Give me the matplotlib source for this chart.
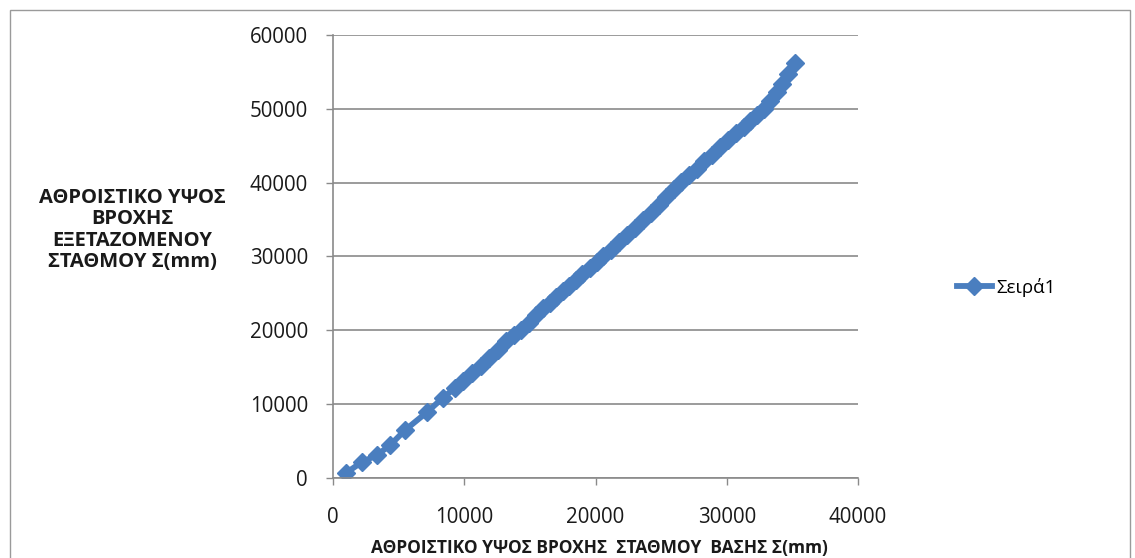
import numpy as np
import matplotlib.pyplot as plt
from matplotlib.patches import Rectangle

# cumulative rainfall, base station (x) vs examined station (y), mm
base_cum = [1000, 2200, 3350, 4350, 5500, 7150, 8400, 9300, 9900, 10600,
            11300, 11900, 12600, 13200, 13800, 14300, 14900, 15500, 16000, 16500,
            17000, 17500, 18000, 18500, 19000, 19600, 20100, 20600, 21200, 21800,
            22400, 23000, 23600, 24200, 24800, 25400, 26000, 26500, 27100, 27700,
            28300, 28900, 29500, 30100, 30700, 31300, 31800, 32300, 32800, 33300,
            33800, 34200, 34700, 35200]
examined_cum = [700, 2150, 3100, 4450, 6500, 8900, 10900, 12200, 13100, 14200,
                15200, 16300, 17300, 18500, 19300, 20100, 21000, 22100, 23000, 23700,
                24500, 25300, 26000, 26800, 27600, 28500, 29300, 30000, 30900, 31900,
                32900, 33900, 34900, 35900, 37000, 38100, 39200, 40100, 41000, 41900,
                42900, 43800, 44800, 45800, 46700, 47600, 48400, 49200, 50000, 51100,
                52300, 53400, 54700, 56200]

x_ticks = [0, 10000, 20000, 30000, 40000]
y_ticks = [0, 10000, 20000, 30000, 40000, 50000, 60000]

x_title = 'ΑΘΡΟΙΣΤΙΚΟ ΥΨΟΣ ΒΡΟΧΗΣ  ΣΤΑΘΜΟΥ  ΒΑΣΗΣ Σ(mm)'
y_title = 'ΑΘΡΟΙΣΤΙΚΟ ΥΨΟΣ\nΒΡΟΧΗΣ\nΕΞΕΤΑΖΟΜΕΝΟΥ\nΣΤΑΘΜΟΥ Σ(mm)'
series_name = 'Σειρά1'

plt.rcParams['font.family'] = ['Open Sans', 'DejaVu Sans']

blue = '#4a7ebf'
grey = '#8a8a8a'
ink = '#1a1a1a'

fig = plt.figure(figsize=(11.35, 5.58), dpi=100)
ax = fig.add_axes([0.2934, 0.1434, 0.4626, 0.7939])

line, = ax.plot(base_cum, examined_cum, color=blue, linewidth=4.2,
                marker='D', markersize=9, markerfacecolor=blue,
                markeredgecolor=blue, label=series_name)

ax.set_xlim(0, 40000)
ax.set_ylim(0, 60000)
ax.set_xticks(x_ticks)
ax.set_yticks(y_ticks)
ax.tick_params(labelsize=14.8, colors=grey, labelcolor=ink, length=5, width=1)
ax.tick_params(axis='y', pad=13)
ax.tick_params(axis='x', pad=16)
ax.grid(axis='y', color=grey, linewidth=1.2)
ax.set_axisbelow(True)
for side in ['top', 'right']:
    ax.spines[side].set_visible(False)
for side in ['left', 'bottom']:
    ax.spines[side].set_color(grey)
    ax.spines[side].set_linewidth(1.2)

fig.text(0.1163, 0.588, y_title, ha='center', va='center', fontsize=14.5,
         fontweight='bold', color=ink, linespacing=1.1)
fig.text(0.528, 0.018, x_title, ha='center', va='center', fontsize=12.5,
         fontweight='bold', color=ink)

fig.legend(handles=[line], loc='center left', bbox_to_anchor=(0.828, 0.485),
           frameon=False, fontsize=13.5, handlelength=1.9, handletextpad=0.2)

# chart frame
fig.patches.append(Rectangle((10 / 1135, -0.01), 1120 / 1135, 1 - 10 / 558 + 0.01,
                             transform=fig.transFigure, fill=False,
                             edgecolor='#9a9a9a', linewidth=1))

fig.savefig('out.png', dpi=100)
